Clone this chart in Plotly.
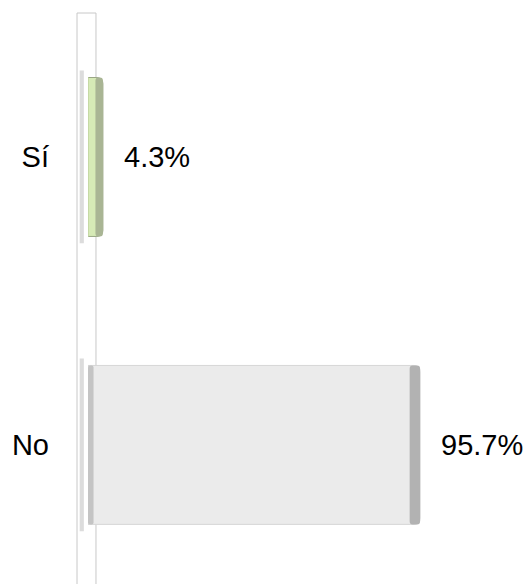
import plotly.graph_objects as go

categories = ["Sí", "No"]
values = [4.3, 95.7]
labels = ["4.3%", "95.7%"]
face_colors = ["#d6eab6", "#ebebeb"]
edge_colors = ["#a9b594", "#b2b2b2"]
side_colors = ["#c6d9a5", "#c4c4c4"]
line_colors = ["#9aa686", "#d6d6d6"]

FONT = "Liberation Sans, Arial, sans-serif"

fig = go.Figure()

# main bar faces
fig.add_trace(go.Bar(
    y=categories, x=values, orientation="h", width=0.552,
    marker=dict(color=face_colors, line=dict(color=line_colors, width=1), cornerradius=6),
    hoverinfo="skip", showlegend=False,
))
# darker left-hand rounded side
side_w = [min(1.6, v * 0.02) for v in values]
fig.add_trace(go.Bar(
    y=categories, x=side_w, base=[0, 0],
    orientation="h", width=0.552,
    marker=dict(color=side_colors, line=dict(width=0), cornerradius=6),
    hoverinfo="skip", showlegend=False,
))
# darker right-hand side of each bar (3D look)
edge_w = [min(3.0, v * 0.5) for v in values]
fig.add_trace(go.Bar(
    y=categories, x=edge_w, base=[v - w for v, w in zip(values, edge_w)],
    orientation="h", width=0.552,
    marker=dict(color=edge_colors, line=dict(width=0), cornerradius=3),
    hoverinfo="skip", showlegend=False,
))

fig.update_layout(barmode="overlay")

# value labels
for c, v, t in zip(categories, values, labels):
    fig.add_annotation(x=v, y=c, text=t, showarrow=False, xanchor="left",
                       xshift=19, font=dict(size=29, color="#000000", family=FONT))

# axis box (vertical wall)
fig.add_shape(type="rect", xref="paper", yref="paper", x0=-0.0317, x1=0.023, y0=-0.05, y1=1.0,
              line=dict(color="#c8c8c8", width=1), fillcolor="rgba(0,0,0,0)", layer="below")
# soft shadow strips next to the wall
for idx, c in enumerate(categories):
    fig.add_shape(type="rect", xref="paper", yref="y", x0=-0.024, x1=-0.012,
                  y0=idx - 0.3, y1=idx + 0.3, line=dict(width=0),
                  fillcolor="#dcdcdc", layer="below")

fig.update_layout(
    width=523, height=576,
    margin=dict(l=80, r=96, t=5, b=0, autoexpand=False),
    paper_bgcolor="white", plot_bgcolor="white",
    font=dict(family=FONT, size=29, color="#000000"),
    xaxis=dict(range=[0, 100], visible=False, fixedrange=True, automargin=False),
    yaxis=dict(type="category", categoryorder="array", categoryarray=categories,
               range=[1.483, -0.5], showline=False, showgrid=False, zeroline=False,
               automargin=False,
               ticks="", ticklabelstandoff=38, tickfont=dict(size=29, family=FONT, color="#000000")),
)

fig.write_html("out.html")
